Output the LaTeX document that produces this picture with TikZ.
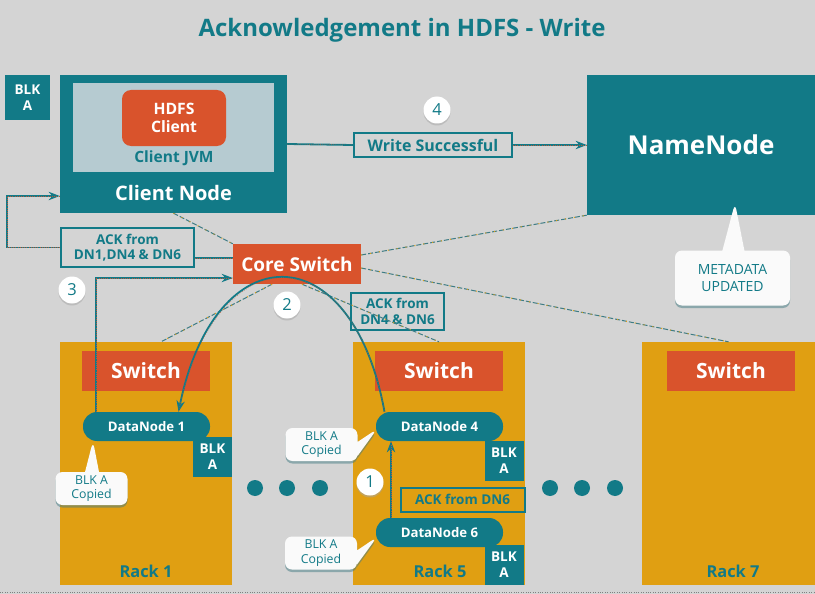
\documentclass[tikz,border=0pt]{standalone}
\usepackage{fontspec}
\setmainfont{Open Sans}
\usetikzlibrary{shapes.callouts,shadows,arrows.meta}
\definecolor{hteal}{HTML}{127A87}
\definecolor{hred}{HTML}{D9532C}
\definecolor{hrack}{HTML}{E09F12}
\definecolor{hback}{HTML}{D4D4D4}
\definecolor{hjvm}{HTML}{B6CBD1}
\begin{document}
\begin{tikzpicture}[x=1pt,y=-1pt,>=Stealth,
	tealbox/.style={fill=hteal,text=white,font=\bfseries},
	redbox/.style={fill=hred,text=white,font=\fontsize{21}{23}\selectfont\bfseries},
	blk/.style={tealbox,minimum width=39pt,minimum height=40pt,align=center,inner sep=1pt,font=\fontsize{13.5}{16}\selectfont\bfseries},
	dnode/.style={tealbox,rounded corners=14pt,minimum width=127pt,minimum height=29pt,font=\fontsize{13.2}{15}\selectfont\bfseries},
	rack/.style={fill=hrack,minimum width=172pt,minimum height=243pt},
	ackbox/.style={draw=hteal,line width=2pt,text=hteal,align=center,inner sep=2pt,font=\fontsize{13.5}{15.5}\selectfont\bfseries},
	num/.style={circle,fill=white,text=hteal,minimum size=27pt,inner sep=0pt,font=\fontsize{16.5}{18}\selectfont,
		drop shadow={shadow xshift=0pt,shadow yshift=-2pt,fill=gray!70}},
	copied/.style={rectangle callout,rounded corners=7pt,fill=white!96!gray,text=hteal,align=center,
		font=\fontsize{12.3}{14.5}\selectfont,inner sep=2pt,callout pointer width=14pt,
		drop shadow={shadow xshift=0pt,shadow yshift=-2.5pt,fill=hteal!55!gray}},
	flow/.style={draw=hteal,line width=1.8pt,postaction={draw=hred!80!hteal,line width=0.5pt,dash pattern=on 0.6pt off 1.6pt,-}},
	net/.style={draw=hteal!60!gray,line width=1pt,dash pattern=on 5pt off 2pt,
		postaction={draw=hrack,line width=1pt,dash pattern=on 1pt off 8pt,-}}]
	\fill[hback] (0,0) rectangle (815,594);
	\useasboundingbox (0,0) rectangle (815,594);
	\draw[gray,dotted] (0,592) -- (815,592);
	\node[text=hteal,font=\fontsize{24}{27}\selectfont\bfseries] (title) at (402,30) {Acknowledgement in HDFS - Write};

	\node[blk,minimum width=45pt,minimum height=45pt] (blkc) at (27.5,97.5) {BLK\\A};
	\node[tealbox,minimum width=227pt,minimum height=138pt] (client) at (173.5,144) {};
	\node[fill=hjvm,minimum width=201pt,minimum height=89pt] (jvm) at (173.5,127.5) {};
	\node[redbox,rounded corners=9pt,minimum width=104pt,minimum height=56pt,align=center,
		font=\fontsize{15.7}{18}\selectfont\bfseries] (hdfs) at (174,118) {HDFS\\Client};
	\node[text=hteal,font=\fontsize{15.5}{17}\selectfont\bfseries] (jvmlbl) at (174,158) {Client JVM};
	\node[text=white,font=\fontsize{20}{22}\selectfont\bfseries] (clientlbl) at (173.5,193) {Client Node};

	\node[tealbox,minimum width=228pt,minimum height=140pt,font=\fontsize{26}{29}\selectfont\bfseries] (namenode) at (701,145) {NameNode};
	\node[ackbox,minimum width=158pt,minimum height=24pt,font=\fontsize{16}{18}\selectfont\bfseries] (ws) at (433,145) {Write Successful};
	\node[num] (n4) at (437,110) {4};
	\node[copied,minimum width=115pt,minimum height=55pt,callout absolute pointer={(735,203)},callout pointer width=22pt,
		font=\fontsize{14}{16.5}\selectfont] (meta) at (732.5,278) {METADATA\\UPDATED};

	\node[ackbox,minimum width=133pt,minimum height=39pt] (ackall) at (127.5,247.5) {ACK from\\DN1,DN4 \& DN6};
	\node[redbox,minimum width=128pt,minimum height=40pt,font=\fontsize{19}{21}\selectfont\bfseries] (coresw) at (297,264) {Core Switch};
	\node[num] (n3) at (72,290) {3};
	\node[num] (n2) at (287,305) {2};

	\node[rack] (rack1) at (146,463.5) {};
	\node[rack] (rack5) at (439,463.5) {};
	\node[rack,minimum width=173pt] (rack7) at (728.5,463.5) {};
	\foreach \r/\x in {1/146,5/439,7/731}{
		\node[redbox,minimum width=128pt,minimum height=40pt] (sw\r) at (\x,371) {Switch};}
	\foreach \r/\x in {1/146,5/440,7/733}{
		\node[text=hteal,font=\fontsize{16.4}{18}\selectfont\bfseries] (lbl\r) at (\x,571) {Rack \r};}
	\node[ackbox,minimum width=93pt,minimum height=37pt] (ack46) at (397.5,311.5) {ACK from\\DN4 \& DN6};

	\node[dnode] (dn1) at (146.5,426.5) {DataNode 1};
	\node[dnode] (dn4) at (439.5,426.5) {DataNode 4};
	\node[dnode] (dn6) at (439.5,532.5) {DataNode 6};
	\node[blk] (blk1) at (212.5,457) {BLK\\A};
	\node[blk] (blk4) at (504,461) {BLK\\A};
	\node[blk] (blk6) at (504,565) {BLK\\A};
	\node[copied,minimum width=72pt,minimum height=33pt,callout absolute pointer={(93,441)}] (cp1) at (91.5,488.5) {BLK A\\Copied};
	\node[copied,minimum width=72pt,minimum height=33pt,callout absolute pointer={(377,429)}] (cp4) at (321.5,444.5) {BLK A\\Copied};
	\node[copied,minimum width=72pt,minimum height=33pt,callout absolute pointer={(377,537)}] (cp6) at (321,553) {BLK A\\Copied};
	\node[num] (n1) at (370,482) {1};
	\node[ackbox,minimum width=124pt,minimum height=24pt,fill=hrack] (ack6) at (462.5,499.5) {ACK from DN6};
	\foreach \x in {255,287,320,550,582,615}{
		\fill[hteal] (\x,488) circle (8);}

	\draw[net] (client.south) -- (coresw.north west);
	\draw[net] ([yshift=9pt]coresw.east) -- (namenode.south west);
	\draw[net] ([yshift=-4pt]coresw.east) -- (rack7.north);
	\draw[net] ([xshift=-25pt]coresw.south) -- ([xshift=15pt]rack1.north);
	\draw[net] ([xshift=5pt]coresw.south) -- (rack5.north);

	\draw[flow] (client.east) -- (ws.west);
	\draw[flow,->] (ws.east) -- (namenode.west);
	\draw[flow,->] (ackall.west) -| (7,196) -- (client.west |- 0,196);
	\draw[flow] (ackall.east |- 0,258) -- (coresw.west |- 0,258);
	\draw[flow,->] (dn1.north -| 96,0) |- ([yshift=-14pt]coresw.west);
	\draw[flow,->] ([xshift=-55pt]dn4.north) .. controls (352,233) and (215,233) .. ([xshift=32pt]dn1.north);
	\draw[flow,->] ([xshift=-48.5pt]dn6.north) -- ([xshift=-48.5pt]dn4.south);
\end{tikzpicture}
\end{document}
